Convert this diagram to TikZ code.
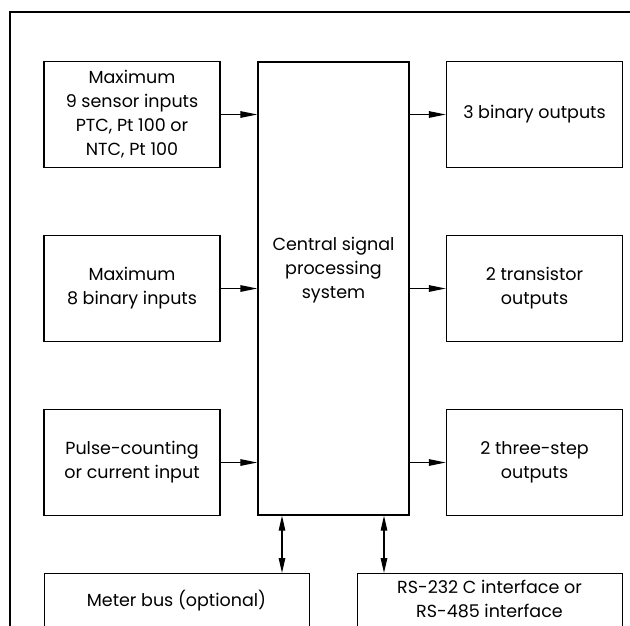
\documentclass[tikz,border=0pt]{standalone}
\usepackage{fontspec}
\setmainfont{Poppins}
\usetikzlibrary{arrows.meta}
\begin{document}
\begin{tikzpicture}[x=1pt,y=-1pt,
  txt/.style={align=center, font=\fontsize{17.5}{24}\selectfont},
  blk/.style={txt, draw, line width=1.3pt, rectangle, inner sep=0pt},
  io/.style={blk, minimum width=176pt, minimum height=106pt},
  arr/.style={line width=1.3pt, -{Triangle[length=17pt,width=6.5pt]}},
  dbl/.style={line width=1.3pt, {Triangle[length=15pt,width=6.5pt]}-{Triangle[length=15pt,width=6.5pt]}}]
\useasboundingbox (0,0) rectangle (630,625);
\clip (0,0) rectangle (630,625);
\draw[line width=1.8pt] (10,660) -- (10,12) -- (660,12);
% input boxes
\node[io] (in1) at (132,114.5) {Maximum\\9 sensor inputs\\PTC, Pt 100 or\\NTC, Pt 100};
\node[io] (in2) at (132,288.5) {Maximum\\8 binary inputs};
\node[io] (in3) at (132,462.5) {Pulse-counting\\or current input};
% central box
\node[blk, minimum width=151pt, minimum height=453pt] (cent) at (333.5,288.5) {};
\node[txt] (ctext) at (333.5,270) {Central signal\\processing\\system};
% output boxes
\node[io] (out1) at (534.5,114.5) {3 binary outputs};
\node[io] (out2) at (534.5,288.5) {2 transistor\\outputs};
\node[io] (out3) at (534.5,462.5) {2 three-step\\outputs};
% bottom boxes (cut off by the lower edge)
\node[blk, minimum width=265pt, minimum height=90pt, anchor=north west] (mb) at (44,573) {};
\node[txt] (mbtext) at (176.5,601) {Meter bus (optional)};
\node[blk, minimum width=265pt, minimum height=90pt, anchor=north west] (rs) at (357,573) {};
\node[txt] (rstext) at (489.5,599) {RS-232 C interface or\\RS-485 interface};
% connectors
\draw[arr] (in1.east) -- (cent.west |- in1.east);
\draw[arr] (in2.east) -- (cent.west |- in2.east);
\draw[arr] (in3.east) -- (cent.west |- in3.east);
\draw[arr] (cent.east |- out1.west) -- (out1.west);
\draw[arr] (cent.east |- out2.west) -- (out2.west);
\draw[arr] (cent.east |- out3.west) -- (out3.west);
\coordinate (a1) at (282,0);
\coordinate (a2) at (384,0);
\draw[dbl] (cent.south -| a1) -- (mb.north -| a1);
\draw[dbl] (cent.south -| a2) -- (rs.north -| a2);
\end{tikzpicture}
\end{document}
